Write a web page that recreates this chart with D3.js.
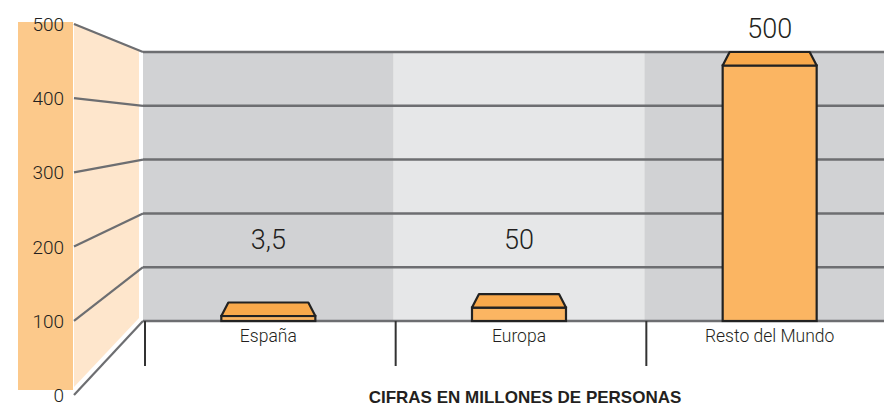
<!DOCTYPE html>
<html>
<head>
<meta charset="utf-8">
<script src="https://cdn.jsdelivr.net/npm/d3@7"></script>
<style>
body { margin: 0; background: #fff; }
svg { display: block; }
</style>
</head>
<body>
<svg></svg>
<script>
var categories = ['España', 'Europa', 'Resto del Mundo'];
var values = [3.5, 50, 500];
var valueLabels = ['3,5', '50', '500'];
var ticks = [0, 100, 200, 300, 400, 500];
var title = 'CIFRAS EN MILLONES DE PERSONAS';

var svgWidth = 884, svgHeight = 406;
var svg = d3.select('svg')
    .attr('width', svgWidth)
    .attr('height', svgHeight);

var gridColor = '#6d6e71', textColor = '#231f20';

// left (front) scale and right (back wall) scale
var yLeft = d3.scaleLinear().domain([0, 500]).range([395, 24]);
var y = d3.scaleLinear().domain([0, 500]).range([321, 52]);
var x = d3.scaleBand().domain(categories).range([143, 895]);

// orange strip on the left
svg.append('rect')
    .attr('x', 18).attr('y', 22)
    .attr('width', 55).attr('height', 368)
    .attr('fill', '#fcc98b');

// light side panel
svg.append('polygon')
    .attr('points', [[74, 23], [139, 50], [139, 318], [74, 387]].join(' '))
    .attr('fill', '#fee6cc');

// back wall bands
svg.selectAll('rect.band')
    .data(categories)
    .enter()
    .append('rect')
    .attr('class', 'band')
    .attr('x', function(d) { return x(d); })
    .attr('y', y(500))
    .attr('width', x.bandwidth())
    .attr('height', y(0) - y(500))
    .attr('fill', function(d, i) { return i % 2 ? '#e6e7e8' : '#d1d2d4'; });

// gridlines
svg.selectAll('line.grid')
    .data(ticks)
    .enter()
    .append('line')
    .attr('x1', 143).attr('x2', svgWidth)
    .attr('y1', function(d) { return y(d); })
    .attr('y2', function(d) { return y(d); })
    .attr('stroke', gridColor)
    .attr('stroke-width', 2.5);

// perspective lines from left ticks to the wall
svg.selectAll('line.persp')
    .data(ticks)
    .enter()
    .append('line')
    .attr('x1', 74).attr('x2', 143)
    .attr('y1', function(d) { return yLeft(d); })
    .attr('y2', function(d) { return y(d); })
    .attr('stroke', gridColor)
    .attr('stroke-width', 2.2);

// tick labels
svg.selectAll('text.tick')
    .data(ticks)
    .enter()
    .append('text')
    .attr('x', 64)
    .attr('y', function(d) { return yLeft(d) + 7; })
    .attr('text-anchor', 'end')
    .attr('font-family', 'Roboto, Liberation Sans, sans-serif')
    .attr('font-weight', 300)
    .attr('font-size', 19)
    .attr('fill', textColor)
    .text(function(d) { return d; });

// category separators below the baseline
svg.selectAll('line.sep')
    .data(categories)
    .enter()
    .append('line')
    .attr('x1', function(d) { return x(d) + 2; })
    .attr('x2', function(d) { return x(d) + 2; })
    .attr('y1', y(0)).attr('y2', 366)
    .attr('stroke', '#333')
    .attr('stroke-width', 2);

// bars
var barW = 94, inset = 7, depth = 13.5, minFront = 5;
function topY(v) { return Math.min(y(v), y(0) - depth - minFront); }

var bars = svg.selectAll('g.bar')
    .data(values)
    .enter()
    .append('g')
    .attr('class', 'bar');

bars.append('rect')
    .attr('x', function(d, i) { return x(categories[i]) + x.bandwidth() / 2 - barW / 2; })
    .attr('y', function(d) { return topY(d) + depth; })
    .attr('width', barW)
    .attr('height', function(d) { return y(0) - topY(d) - depth; })
    .attr('fill', '#fbb562')
    .attr('stroke', '#222')
    .attr('stroke-width', 2.2);

bars.append('polygon')
    .attr('points', function(d, i) {
        var cx = x(categories[i]) + x.bandwidth() / 2, t = topY(d);
        return [[cx - barW / 2, t + depth], [cx - barW / 2 + inset, t],
                [cx + barW / 2 - inset, t], [cx + barW / 2, t + depth]].join(' ');
    })
    .attr('fill', '#f9a94b')
    .attr('stroke', '#222')
    .attr('stroke-width', 2.2)
    .attr('stroke-linejoin', 'round');

// value labels
svg.selectAll('text.value')
    .data(values)
    .enter()
    .append('text')
    .attr('x', function(d, i) { return x(categories[i]) + x.bandwidth() / 2; })
    .attr('y', function(d) { return Math.min(topY(d) - 14, 249); })
    .attr('text-anchor', 'middle')
    .attr('font-family', 'Roboto, Liberation Sans, sans-serif')
    .attr('font-weight', 300)
    .attr('font-size', 27)
    .attr('fill', textColor)
    .text(function(d, i) { return valueLabels[i]; });

// category labels
svg.selectAll('text.cat')
    .data(categories)
    .enter()
    .append('text')
    .attr('x', function(d) { return x(d) + x.bandwidth() / 2; })
    .attr('y', 342)
    .attr('text-anchor', 'middle')
    .attr('font-family', 'Roboto, Liberation Sans, sans-serif')
    .attr('font-weight', 300)
    .attr('font-size', 17.5)
    .attr('fill', textColor)
    .text(function(d) { return d; });

// title
svg.append('text')
    .attr('x', 525)
    .attr('y', 403)
    .attr('text-anchor', 'middle')
    .attr('font-family', 'Liberation Sans Narrow, Arial Narrow, sans-serif')
    .attr('font-weight', 'bold')
    .attr('font-size', 17)
    .attr('fill', textColor)
    .text(title);
</script>
</body>
</html>
